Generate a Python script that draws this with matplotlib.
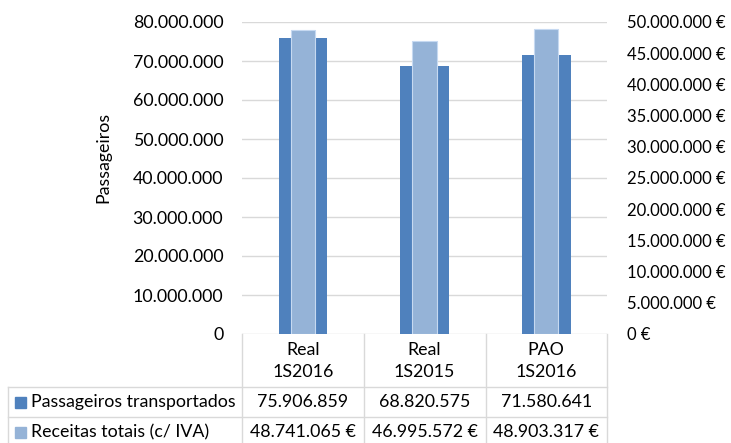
import numpy as np
import matplotlib
matplotlib.use('Agg')
from matplotlib import pyplot as plt
from matplotlib import transforms
from matplotlib.lines import Line2D
from matplotlib.patches import Rectangle

categories = ['Real\n1S2016', 'Real\n1S2015', 'PAO\n1S2016']
passageiros = [75906859, 68820575, 71580641]
receitas = [48741065, 46995572, 48903317]
series_names = ['Passageiros transportados', 'Receitas totais (c/ IVA)']

dark_blue = '#4F81BD'
light_blue = '#95B3D7'
grid_grey = '#D9D9D9'
W, H = 731, 443

plt.rcParams['font.family'] = ['Lato', 'DejaVu Sans']
plt.rcParams['font.size'] = 12.8


def pt(n):
    # thousands separator as a dot
    return '{:,}'.format(int(n)).replace(',', '.')


def fx(px):
    return px / W


def fy(py):
    return 1 - py / H


fig = plt.figure(figsize=(W / 100, H / 100), dpi=100)
ax = fig.add_axes([fx(242), fy(334), (607 - 242) / W, (334 - 22) / H])

x = np.arange(len(categories))
ax.bar(x, passageiros, width=0.4, color=dark_blue, zorder=2)
ax.set_xlim(-0.5, len(categories) - 0.5)
ax.set_ylim(0, 80e6)
ax.set_yticks(np.arange(0, 80e6 + 1, 10e6))
ax.set_yticklabels([pt(v) for v in np.arange(0, 80e6 + 1, 10e6)])
ax.set_xticks([])
ax.yaxis.grid(True, color=grid_grey, lw=1)
ax.set_axisbelow(True)
ax.tick_params(axis='y', length=0, pad=13.5)
for s in ax.spines.values():
    s.set_visible(False)

ax2 = ax.twinx()
ax2.bar(x, receitas, width=0.2, color=light_blue, edgecolor='#C6D9F1', lw=0.8, zorder=3)
ax2.set_ylim(0, 50e6)
ax2.set_yticks(np.arange(0, 50e6 + 1, 5e6))
ax2.set_yticklabels([pt(v) + ' \u20ac' for v in np.arange(0, 50e6 + 1, 5e6)])
ax2.tick_params(axis='y', length=0, pad=14.5, labelsize=12)
for s in ax2.spines.values():
    s.set_visible(False)

fig.text(fx(103), fy(157), 'Passageiros', rotation=90, ha='center', va='center')

# data table under the plot
line_kw = dict(color=grid_grey, lw=1, transform=fig.transFigure)
for xp in [242, 364, 486, 607]:
    fig.add_artist(Line2D([fx(xp), fx(xp)], [fy(334), fy(450)], **line_kw))
fig.add_artist(Line2D([fx(8), fx(8)], [fy(387), fy(450)], **line_kw))
for yp in [387, 417]:
    fig.add_artist(Line2D([fx(8), fx(607)], [fy(yp), fy(yp)], **line_kw))

col = transforms.blended_transform_factory(ax.transData, fig.transFigure)
for i, cat in enumerate(categories):
    ax.text(i, fy(361), cat, transform=col, ha='center', va='center',
            linespacing=1.4, clip_on=False)
    ax.text(i, fy(402), pt(passageiros[i]), transform=col, ha='center', va='center',
            clip_on=False)
    ax.text(i, fy(432), pt(receitas[i]) + ' \u20ac', transform=col, ha='center',
            va='center', clip_on=False)

for yp, name, c in [(402, series_names[0], dark_blue), (432, series_names[1], light_blue)]:
    fig.add_artist(Rectangle((fx(15), fy(yp + 5.5)), 11 / W, 11 / H, color=c,
                             transform=fig.transFigure))
    fig.text(fx(31), fy(yp), name, ha='left', va='center')

fig.savefig('out.png', dpi=100)
